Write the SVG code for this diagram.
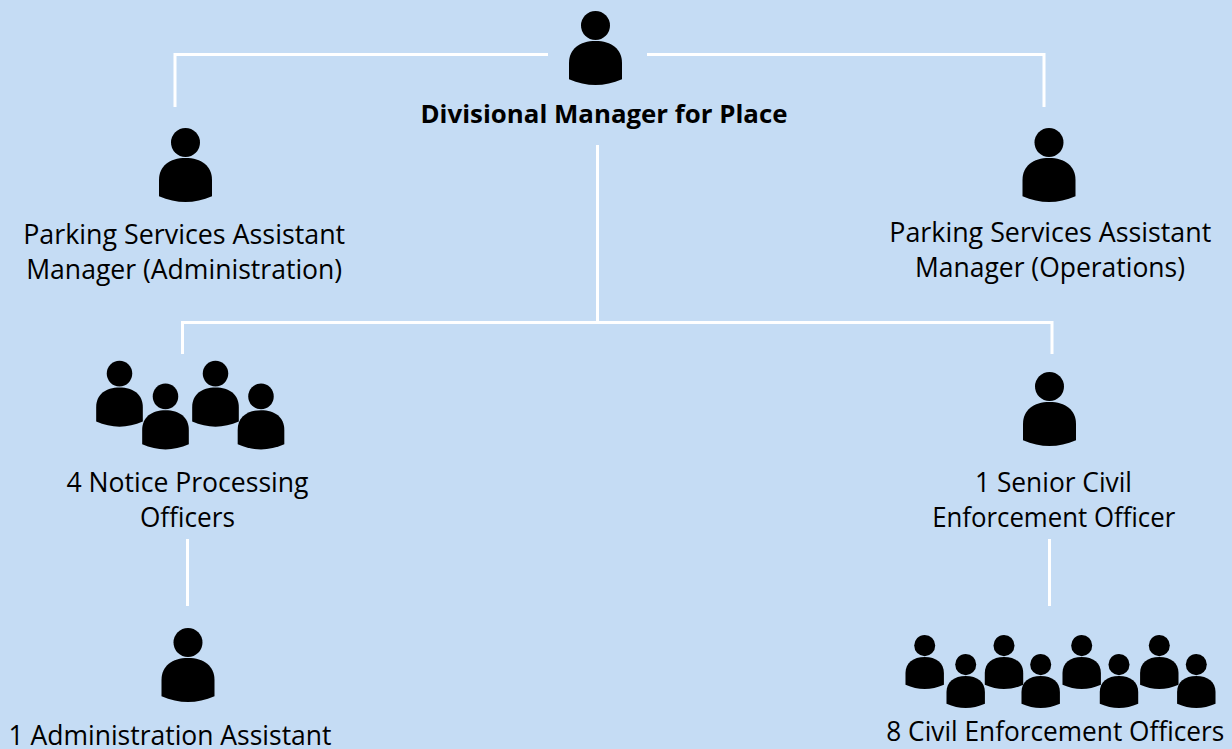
<svg xmlns="http://www.w3.org/2000/svg" width="1232" height="749" viewBox="0 0 1232 749">
<style>
text{font-family:"Open Sans","Noto Sans","Liberation Sans",sans-serif;font-size:26.600px;fill:#000;text-anchor:middle}
.b{font-weight:700;font-size:25.800px}
.c{fill:none;stroke:#fff;stroke-width:3}
</style>
<defs>
<g id="p"><circle cx="0" cy="14.500" r="14.500"/><path d="M-26.500 68.300V52C-26.500 38 -16 30 0 30S26.500 38 26.500 52V68.300C9 76 -9 76 -26.500 68.300Z"/></g>
</defs>
<rect width="1232" height="749" fill="#c5dcf4"/>
<g id="connectors">
<path class="c" d="M175 107V54.500H548"/>
<path class="c" d="M647 54.500H1044V107"/>
<path class="c" d="M597.500 145V322"/>
<path class="c" d="M182.500 354V322.500H1052V354"/>
<path class="c" d="M187.500 539V606"/>
<path class="c" d="M1049.500 539V606"/>
</g>
<g id="manager"><use href="#p" transform="translate(595.500 11)"/><text class="b" x="604" y="123" textLength="367" lengthAdjust="spacingAndGlyphs">Divisional Manager for Place</text></g>
<g id="admin"><use href="#p" transform="translate(185.500 128)"/><text x="184.200" y="243.500" textLength="322" lengthAdjust="spacingAndGlyphs">Parking Services Assistant</text><text x="184.200" y="278.500" textLength="316" lengthAdjust="spacingAndGlyphs">Manager (Administration)</text></g>
<g id="ops"><use href="#p" transform="translate(1049 128)"/><text x="1050.300" y="241.500" textLength="322" lengthAdjust="spacingAndGlyphs">Parking Services Assistant</text><text x="1050" y="276.500" textLength="270" lengthAdjust="spacingAndGlyphs">Manager (Operations)</text></g>
<g id="notice">
<use href="#p" transform="translate(119.500 360.700) scale(.88 .89)"/><use href="#p" transform="translate(165.500 383.500) scale(.88 .89)"/><use href="#p" transform="translate(215.500 360.700) scale(.88 .89)"/><use href="#p" transform="translate(261 383.500) scale(.88 .89)"/>
<text x="187.500" y="491.500" textLength="242" lengthAdjust="spacingAndGlyphs">4 Notice Processing</text><text x="187.500" y="526.500" textLength="95" lengthAdjust="spacingAndGlyphs">Officers</text></g>
<g id="senior"><use href="#p" transform="translate(1049.500 372)"/><text x="1053.500" y="491.500" textLength="157" lengthAdjust="spacingAndGlyphs">1 Senior Civil</text><text x="1053.700" y="526.500" textLength="243" lengthAdjust="spacingAndGlyphs">Enforcement Officer</text></g>
<g id="assistant"><use href="#p" transform="translate(188 628)"/><text x="170" y="745" textLength="323" lengthAdjust="spacingAndGlyphs">1 Administration Assistant</text></g>
<g id="ceo">
<use href="#p" transform="translate(924.700 635) scale(.725 .73)"/><use href="#p" transform="translate(965.700 654) scale(.725 .73)"/><use href="#p" transform="translate(1004 635) scale(.725 .73)"/><use href="#p" transform="translate(1040.700 654) scale(.725 .73)"/><use href="#p" transform="translate(1081.700 635) scale(.725 .73)"/><use href="#p" transform="translate(1119 654) scale(.725 .73)"/><use href="#p" transform="translate(1159.300 635) scale(.725 .73)"/><use href="#p" transform="translate(1196.300 654) scale(.725 .73)"/>
<text x="1055.300" y="741" textLength="338" lengthAdjust="spacingAndGlyphs">8 Civil Enforcement Officers</text></g>
</svg>
